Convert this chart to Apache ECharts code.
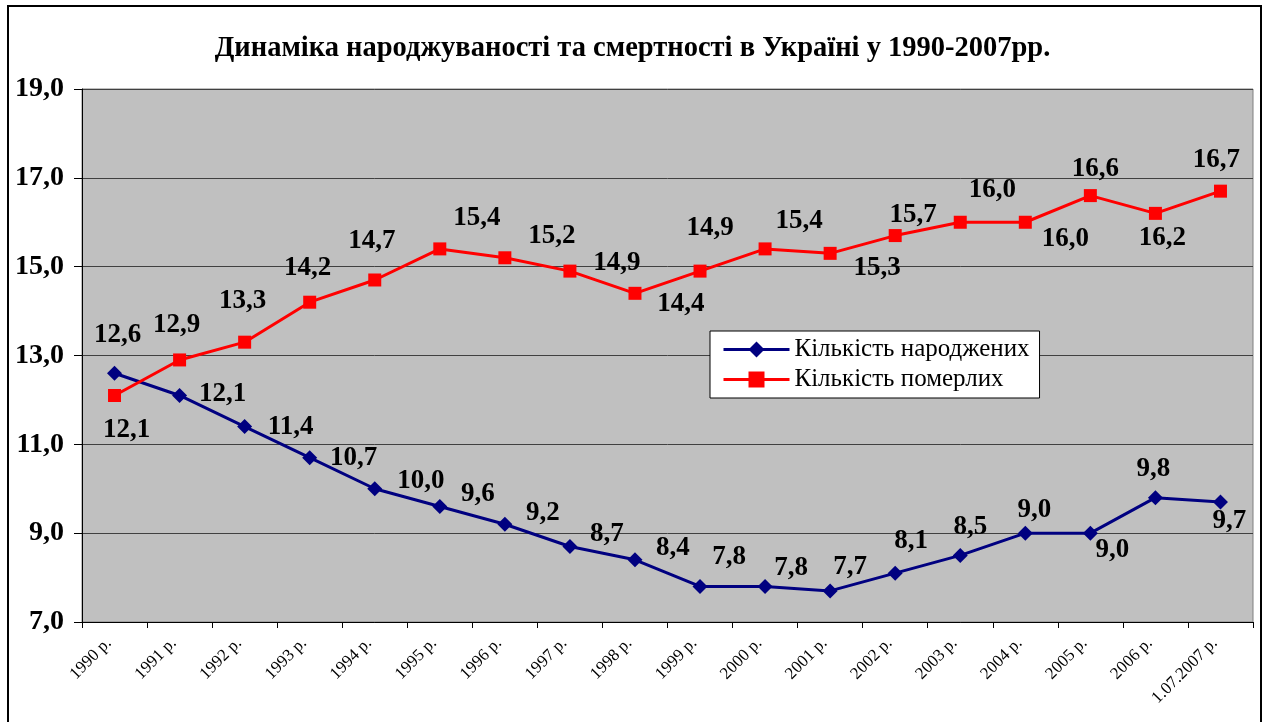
<!DOCTYPE html>
<html>
<head>
<meta charset="utf-8">
<script src="https://cdn.jsdelivr.net/npm/echarts@6/dist/echarts.min.js"></script>
<style>
  html, body { margin: 0; padding: 0; background: #fff; }
  #chart { width: 1265px; height: 722px; }
</style>
</head>
<body>
<div id="chart"></div>
<script>
const years = ['1990 р.', '1991 р.', '1992 р.', '1993 р.', '1994 р.', '1995 р.', '1996 р.', '1997 р.', '1998 р.',
    '1999 р.', '2000 р.', '2001 р.', '2002 р.', '2003 р.', '2004 р.', '2005 р.', '2006 р.', '1.07.2007 р.'];
const births = [12.6, 12.1, 11.4, 10.7, 10.0, 9.6, 9.2, 8.7, 8.4, 7.8, 7.8, 7.7, 8.1, 8.5, 9.0, 9.0, 9.8, 9.7];
const deaths = [12.1, 12.9, 13.3, 14.2, 14.7, 15.4, 15.2, 14.9, 14.4, 14.9, 15.4, 15.3, 15.7, 16.0, 16.0, 16.6, 16.2, 16.7];

// where each value label sits relative to its point (px)
const birthLabelShift = [[3, -38], [43, -1], [46, 0], [44, 0], [46, -8], [38, -12], [38, -11], [37, -12], [38, -12],
    [29, -29], [26, -18], [20, -24], [16, -32], [10, -28], [9, -23], [22, 17], [-2, -29], [9, 19]];
const deathLabelShift = [[12, 35], [-3, -35], [-2, -41], [-2, -34], [-3, -39], [37, -31], [47, -22], [47, -8], [46, 11],
    [10, -43], [34, -28], [47, 15], [18, -21], [32, -32], [40, 17], [5, -27], [7, 25], [-4, -31]];

const serif = '"Liberation Serif", "Times New Roman", serif';
const comma = v => v.toFixed(1).replace('.', ',');

function withLabels(values, shifts) {
    return values.map((v, i) => ({
        value: v,
        label: { offset: shifts[i] }
    }));
}

const chart = echarts.init(document.getElementById('chart'));
chart.setOption({
    animation: false,
    backgroundColor: '#fff',
    title: {
        text: 'Динаміка народжуваності та смертності в Україні у 1990-2007рр.',
        left: 'center',
        top: 29,
        textStyle: { fontFamily: serif, fontWeight: 'bold', fontSize: 28.5, color: '#000' }
    },
    graphic: [{
        type: 'rect',
        shape: { x: 8, y: 6, width: 1253, height: 740 },
        style: { fill: 'none', stroke: '#000', lineWidth: 2 },
        silent: true
    }],
    grid: {
        left: 82, right: 12, top: 89, bottom: 100,
        show: true, backgroundColor: '#c0c0c0', borderColor: '#808080', borderWidth: 1
    },
    legend: {
        orient: 'vertical',
        left: 710, top: 331,
        padding: [6, 10, 6, 12],
        itemGap: 5,
        itemWidth: 66, itemHeight: 20,
        backgroundColor: '#fff', borderColor: '#000', borderWidth: 1,
        lineStyle: { width: 3 },
        textStyle: { fontFamily: serif, fontSize: 25, color: '#000' },
        data: ['Кількість народжених', 'Кількість померлих']
    },
    xAxis: {
        type: 'category',
        data: years,
        boundaryGap: true,
        axisLine: { lineStyle: { color: '#000', width: 1 } },
        axisTick: { show: true, length: 6, lineStyle: { color: '#000' } },
        axisLabel: {
            rotate: 45, margin: 13, padding: [0, 8, 0, 0],
            fontFamily: serif, fontSize: 17, color: '#000', interval: 0
        }
    },
    yAxis: {
        type: 'value',
        min: 7, max: 19, interval: 2,
        axisLine: { show: true, lineStyle: { color: '#000', width: 1 } },
        axisTick: { show: true, length: 8, lineStyle: { color: '#000' } },
        axisLabel: { formatter: comma, margin: 18, fontFamily: serif, fontWeight: 'bold', fontSize: 28, color: '#000' },
        splitLine: { show: true, lineStyle: { color: '#404040', width: 1 } }
    },
    series: [{
        name: 'Кількість народжених',
        type: 'line',
        data: withLabels(births, birthLabelShift),
        symbol: 'diamond',
        symbolSize: 15,
        lineStyle: { color: '#000080', width: 3 },
        itemStyle: { color: '#000080' },
        label: {
            show: true, position: 'inside',
            formatter: p => comma(p.value),
            fontFamily: serif, fontWeight: 'bold', fontSize: 27, color: '#000'
        },
        z: 3
    }, {
        name: 'Кількість померлих',
        type: 'line',
        data: withLabels(deaths, deathLabelShift),
        symbol: 'rect',
        symbolSize: 13,
        lineStyle: { color: '#ff0000', width: 3 },
        itemStyle: { color: '#ff0000' },
        label: {
            show: true, position: 'inside',
            formatter: p => comma(p.value),
            fontFamily: serif, fontWeight: 'bold', fontSize: 27, color: '#000'
        },
        z: 3
    }]
});
</script>
</body>
</html>
